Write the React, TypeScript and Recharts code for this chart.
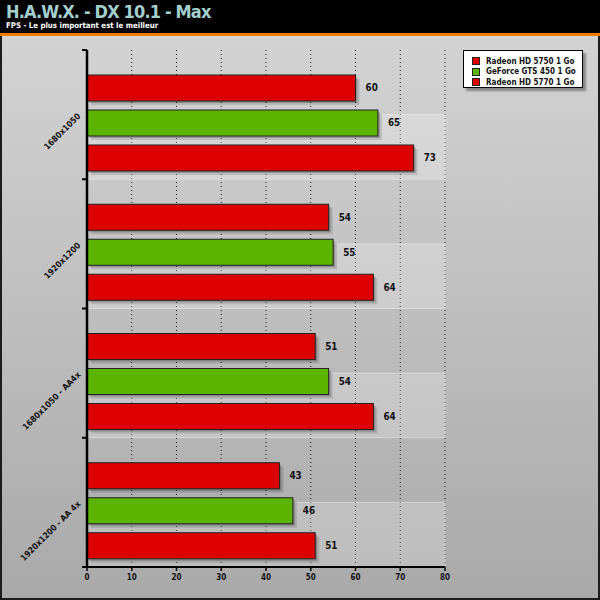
import React from 'react';
import * as Recharts from 'recharts';
import {
  ComposedChart,
  Bar,
  XAxis,
  YAxis,
  CartesianGrid,
  LabelList,
} from 'recharts';

// values
const resolutions = ['1680x1050', '1920x1200', '1680x1050 - AA4x', '1920x1200 - AA 4x'];
const hd5750 = [60, 54, 51, 43];
const gts450 = [65, 55, 54, 46];
const hd5770 = [73, 64, 64, 51];
const xTicks = [0, 10, 20, 30, 40, 50, 60, 70, 80];
const seriesNames = ['Radeon HD 5750 1 Go', 'GeForce GTS 450 1 Go', 'Radeon HD 5770 1 Go'];
const seriesKeys = ['hd5750', 'gts450', 'hd5770'];
const seriesColors = ['#dd0000', '#5ab400', '#dd0000'];

const data = resolutions.map((res, i) => ({
  res,
  hd5750: hd5750[i],
  gts450: gts450[i],
  hd5770: hd5770[i],
}));

const FONT = '"DejaVu Sans Condensed", "DejaVu Sans", sans-serif';
const usePlotArea: any = (Recharts as any).usePlotArea || (Recharts as any).useOffset;

// alternating half-band stripes and band boundary ticks on the y axis
const PlotDecor = () => {
  const area = usePlotArea ? usePlotArea() : null;
  if (!area) return null;
  const x = area.x ?? area.left;
  const y = area.y ?? area.top;
  const w = area.width;
  const h = area.height;
  const n = resolutions.length;
  const half = h / (n * 2);
  return (
    <g>
      {resolutions.map((r, i) => (
        <rect
          key={r}
          x={x}
          y={y + (2 * i + 1) * half}
          width={w}
          height={half}
          fill="#ffffff"
          fillOpacity={0.22}
          stroke="#ffffff"
          strokeOpacity={0.35}
        />
      ))}
      {[...resolutions, ''].map((r, i) => (
        <line key={i} x1={x - 5} x2={x} y1={y + (i * h) / n} y2={y + (i * h) / n} stroke="#000" strokeWidth={2} />
      ))}
    </g>
  );
};

// bar with a soft drop shadow
const ShadowBar = (props: any) => {
  const { x, y, width, height, fill } = props;
  if (!width || width <= 0) return null;
  return (
    <g>
      <rect x={x + 4} y={y + 4} width={width} height={height} fill="rgba(0,0,0,0.12)" />
      <rect x={x + 2} y={y + 2} width={width} height={height} fill="rgba(0,0,0,0.2)" />
      <rect x={x} y={y} width={width} height={height} fill={fill} stroke="#222" strokeWidth={1} />
    </g>
  );
};

const CategoryTick = (props: any) => {
  const { x, y, payload } = props;
  return (
    <text
      x={x}
      y={y}
      transform={`rotate(-45, ${x}, ${y})`}
      textAnchor="end"
      dy={3}
      fontSize={8.5}
      fontWeight="bold"
      fill="#111"
      fontFamily={FONT}
    >
      {payload.value}
    </text>
  );
};

const LegendBox = () => (
  <div
    style={{
      position: 'absolute',
      left: 463,
      top: 50,
      width: 120,
      height: 38,
      boxSizing: 'border-box',
      background: '#fff',
      border: '1px solid #000',
      boxShadow: '3px 3px 2px rgba(0,0,0,0.35)',
      padding: '5px 0 0 8px',
    }}
  >
    {seriesNames.map((name, i) => (
      <div key={name} style={{ display: 'flex', alignItems: 'center', height: 10.5 }}>
        <span
          style={{
            width: 6,
            height: 6,
            background: seriesColors[i],
            border: '1px solid #222',
            marginRight: 6,
          }}
        />
        <span style={{ fontFamily: FONT, fontSize: 8, fontWeight: 'bold', color: '#111' }}>{name}</span>
      </div>
    ))}
  </div>
);

export default function App() {
  return (
    <div style={{ position: 'absolute', left: 0, top: 0, width: 600, height: 600, background: '#000', overflow: 'hidden' }}>
      <div
        style={{
          position: 'absolute',
          left: 6,
          top: 2,
          fontFamily: FONT,
          fontWeight: 'bold',
          fontSize: 18,
          letterSpacing: -0.85,
          color: '#a3cfcf',
          lineHeight: '19px',
          whiteSpace: 'nowrap',
        }}
      >
        H.A.W.X. - DX 10.1 - Max
      </div>
      <div
        style={{
          position: 'absolute',
          left: 6,
          top: 21,
          fontFamily: FONT,
          fontWeight: 'bold',
          fontSize: 7.8,
          color: '#fff',
          lineHeight: '10px',
          whiteSpace: 'nowrap',
        }}
      >
        FPS - Le plus important est le meilleur
      </div>
      <div style={{ position: 'absolute', left: 0, top: 33, width: 600, height: 3, background: '#f07d00' }} />
      <div
        style={{
          position: 'absolute',
          left: 0,
          top: 36,
          width: 600,
          height: 564,
          boxSizing: 'border-box',
          border: '2px solid #1c1c1c',
          borderTop: 'none',
          background: 'linear-gradient(#d3d3d3, #a9a9a9)',
        }}
      />
      <div style={{ position: 'absolute', left: 0, top: 0 }}>
        <ComposedChart
          width={600}
          height={600}
          data={data}
          layout="vertical"
          margin={{ top: 50, right: 155, bottom: 11, left: 0 }}
          barGap={9}
          style={{ fontFamily: FONT }}
        >
          <PlotDecor />
          <XAxis
            type="number"
            domain={[0, 80]}
            ticks={xTicks}
            height={22}
            tick={{ fontSize: 8, fontWeight: 'bold', fill: '#111' }}
            axisLine={{ stroke: '#000', strokeWidth: 2 }}
            tickLine={{ stroke: '#000', strokeWidth: 1.5 }}
            tickSize={4}
            tickMargin={3}
          />
          <YAxis
            type="category"
            dataKey="res"
            width={87}
            axisLine={{ stroke: '#000', strokeWidth: 2.5 }}
            tickLine={false}
            tick={<CategoryTick />}
          />
          <CartesianGrid vertical horizontal={false} stroke="#1a1a1a" strokeDasharray="1 3" />
          {/* spacer pushes each group of bars toward the lower part of its band */}
          <Bar dataKey={() => 0} barSize={8} fill="none" legendType="none" isAnimationActive={false} />
          {seriesKeys.map((key, i) => (
            <Bar
              key={key}
              dataKey={key}
              name={seriesNames[i]}
              fill={seriesColors[i]}
              barSize={26}
              shape={<ShadowBar />}
              isAnimationActive={false}
            >
              <LabelList
                dataKey={key}
                position="right"
                offset={10}
                style={{ fontSize: 9.8, fontWeight: 'bold', fill: '#111', fontFamily: FONT }}
              />
            </Bar>
          ))}
        </ComposedChart>
      </div>
      <LegendBox />
    </div>
  );
}
